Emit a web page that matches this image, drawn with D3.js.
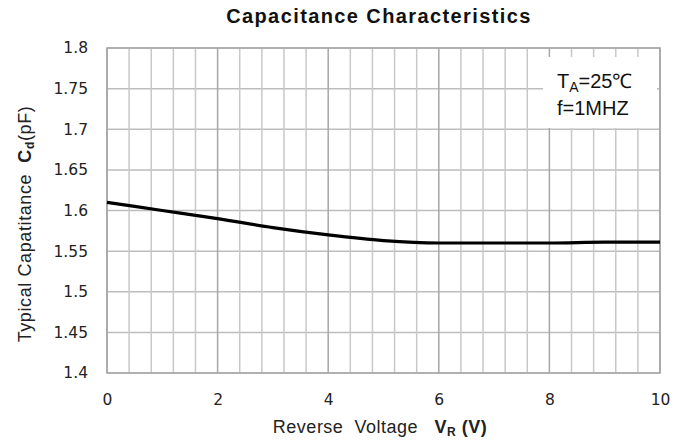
<!DOCTYPE html>
<html>
<head>
<meta charset="utf-8">
<title>Capacitance Characteristics</title>
<script src="https://d3js.org/d3.v7.min.js"></script>
<style>
  body { margin: 0; background: #fff; }
  svg { display: block; }
</style>
</head>
<body>
<script>
const WIDTH = 686;
const HEIGHT = 443;

// reverse voltage (V) and capacitance (pF)
const voltage = [0, 1, 2, 3, 4, 5, 6, 7, 8, 9, 10];
const capacitance = [1.61, 1.60, 1.59, 1.579, 1.57, 1.563, 1.56, 1.56, 1.56, 1.561, 1.561];

const xTicks = [0, 2, 4, 6, 8, 10];
const yTicks = [1.4, 1.45, 1.5, 1.55, 1.6, 1.65, 1.7, 1.75, 1.8];
const yTickLabels = ['1.4', '1.45', '1.5', '1.55', '1.6', '1.65', '1.7', '1.75', '1.8'];
const xGrid = d3.range(0, 26).map(function (i) { return i * 0.4; });

const PLOT_L = 107, PLOT_R = 660, PLOT_T = 48, PLOT_B = 373;

const x = d3.scaleLinear().domain([0, 10]).range([PLOT_L, PLOT_R]);
const y = d3.scaleLinear().domain([1.4, 1.8]).range([PLOT_B, PLOT_T]);

const svg = d3.select('body').append('svg')
  .attr('width', WIDTH)
  .attr('height', HEIGHT);

// grid
svg.append('g').selectAll('line')
  .data(yTicks)
  .enter().append('line')
  .attr('x1', PLOT_L).attr('x2', PLOT_R)
  .attr('y1', function (d) { return y(d); })
  .attr('y2', function (d) { return y(d); })
  .attr('stroke', '#bdbdbd')
  .attr('stroke-width', 1.5);

svg.append('g').selectAll('line')
  .data(xGrid)
  .enter().append('line')
  .attr('x1', function (d) { return x(d); })
  .attr('x2', function (d) { return x(d); })
  .attr('y1', PLOT_T).attr('y2', PLOT_B)
  .attr('stroke', function (d, i) { return i % 5 === 0 ? '#a6a6a6' : '#c8c8c8'; })
  .attr('stroke-width', 1.5);

svg.append('rect')
  .attr('x', PLOT_L).attr('y', PLOT_T)
  .attr('width', PLOT_R - PLOT_L).attr('height', PLOT_B - PLOT_T)
  .attr('fill', 'none')
  .attr('stroke', '#a6a6a6')
  .attr('stroke-width', 1.5);

// legend box
svg.append('rect')
  .attr('x', 543).attr('y', 57)
  .attr('width', 114).attr('height', 71)
  .attr('fill', '#fff');

const note = svg.append('g')
  .attr('font-family', 'Liberation Sans, Arial, sans-serif')
  .attr('font-size', 20)
  .attr('fill', '#111');
const t1 = note.append('text').attr('x', 557).attr('y', 88);
t1.append('tspan').text('T');
t1.append('tspan').attr('font-size', 14).attr('dy', 4).text('A');
t1.append('tspan').attr('dy', -4).text('=25℃');
note.append('text').attr('x', 557).attr('y', 115).text('f=1MHZ');

// curve
const line = d3.line()
  .x(function (d) { return x(d[0]); })
  .y(function (d) { return y(d[1]); })
  .curve(d3.curveMonotoneX);

svg.append('path')
  .datum(d3.zip(voltage, capacitance))
  .attr('d', line)
  .attr('fill', 'none')
  .attr('stroke', '#000')
  .attr('stroke-width', 3.2);

// axes
const xAxis = svg.append('g')
  .attr('transform', 'translate(0,' + PLOT_B + ')')
  .call(d3.axisBottom(x).tickValues(xTicks).tickSize(0).tickPadding(21));
const yAxis = svg.append('g')
  .attr('transform', 'translate(' + PLOT_L + ',0)')
  .call(d3.axisLeft(y).tickValues(yTicks).tickSize(0).tickPadding(19)
    .tickFormat(function (d, i) { return yTickLabels[i]; }));

[xAxis, yAxis].forEach(function (g) {
  g.select('.domain').remove();
  g.selectAll('text')
    .attr('font-family', "'DejaVu Sans', Verdana, sans-serif")
    .attr('font-size', 15.5)
    .attr('fill', '#222');
});

// title
svg.append('text')
  .attr('x', 379).attr('y', 23)
  .attr('text-anchor', 'middle')
  .attr('font-family', 'Liberation Sans, Arial, sans-serif')
  .attr('font-weight', 'bold')
  .attr('font-size', 20)
  .attr('letter-spacing', 1.4)
  .attr('fill', '#111')
  .text('Capacitance Characteristics');

// x title
const xt = svg.append('text')
  .attr('x', 380).attr('y', 433)
  .attr('text-anchor', 'middle')
  .attr('font-family', 'Liberation Sans, Arial, sans-serif')
  .attr('font-size', 18)
  .attr('letter-spacing', 0.5)
  .attr('fill', '#222')
  .attr('xml:space', 'preserve');
xt.append('tspan').text('Reverse  Voltage   ');
xt.append('tspan').attr('font-weight', 'bold').text('V');
xt.append('tspan').attr('font-weight', 'bold').attr('font-size', 12).attr('dy', 3).text('R');
xt.append('tspan').attr('font-weight', 'bold').attr('dy', -3).text(' (V)');

// y title
const yt = svg.append('text')
  .attr('transform', 'translate(31,224) rotate(-90)')
  .attr('text-anchor', 'middle')
  .attr('font-family', 'Liberation Sans, Arial, sans-serif')
  .attr('font-size', 18)
  .attr('letter-spacing', 0.6)
  .attr('fill', '#222')
  .attr('xml:space', 'preserve');
yt.append('tspan').text('Typical Capatitance  ');
yt.append('tspan').attr('font-weight', 'bold').text('C');
yt.append('tspan').attr('font-weight', 'bold').attr('font-size', 12).attr('dy', 3).text('d');
yt.append('tspan').attr('dy', -3).text('(pF)');
</script>
</body>
</html>
